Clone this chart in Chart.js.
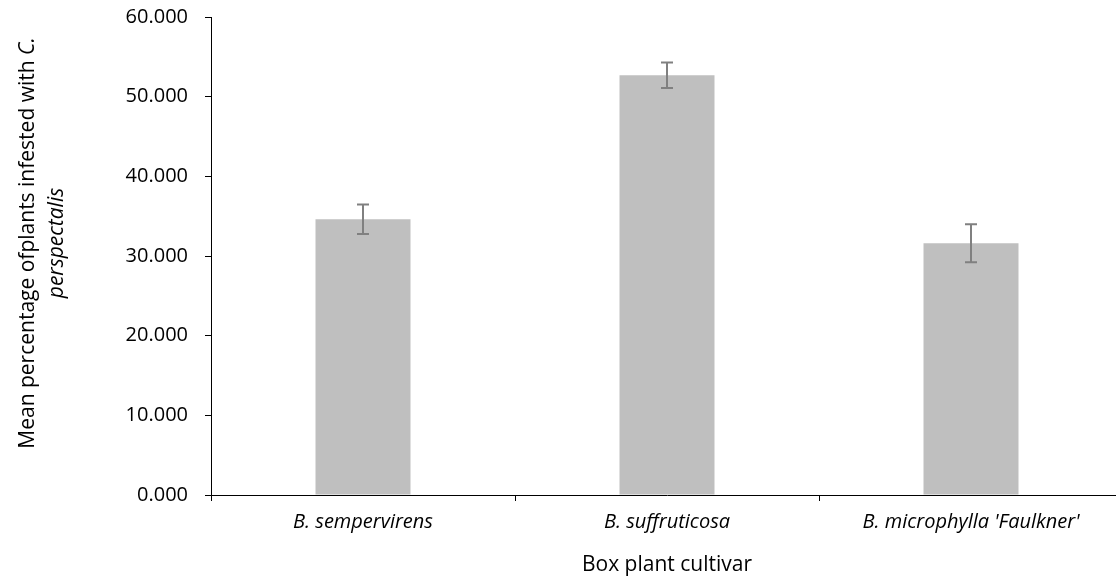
<!DOCTYPE html>
<html><head><meta charset="utf-8">
<script src="https://cdn.jsdelivr.net/npm/chart.js@4/dist/chart.umd.min.js"></script>
<style>
html,body{margin:0;padding:0;background:#fff;overflow:hidden;width:1116px;height:578px}
#wrap{position:absolute;left:0;top:0;width:1124px;height:578px}
</style>
</head><body><div id="wrap"><canvas id="c" width="1124" height="578"></canvas></div>
<script>
const categories = ["B. sempervirens", "B. suffruticosa", "B. microphylla 'Faulkner'"];
const meanValues = [34.6, 52.7, 31.6];
const errorValues = [1.85, 1.6, 2.4];
const yTicks = [0, 10, 20, 30, 40, 50, 60];
const xTitle = 'Box plant cultivar';
const yTitleLine1 = 'Mean percentage ofplants infested with ';
const yTitleLine1Italic = 'C.';
const yTitleLine2 = 'perspectalis';

const FONT = "'Open Sans', 'Liberation Sans', sans-serif";

const errorBarPlugin = {
  id: 'errorBars',
  afterDatasetsDraw(chart) {
    const ctx = chart.ctx;
    const meta = chart.getDatasetMeta(0);
    const y = chart.scales.y;
    ctx.save();
    ctx.strokeStyle = '#808080';
    ctx.lineWidth = 2;
    meta.data.forEach((bar, i) => {
      const m = meanValues[i], e = errorValues[i];
      const yt = y.getPixelForValue(m + e);
      const yb = y.getPixelForValue(m - e);
      const x = bar.x;
      ctx.beginPath();
      ctx.moveTo(x, yt); ctx.lineTo(x, yb);
      ctx.moveTo(x - 6, yt); ctx.lineTo(x + 6, yt);
      ctx.moveTo(x - 6, yb); ctx.lineTo(x + 6, yb);
      ctx.stroke();
    });
    ctx.restore();
  }
};

const yTitlePlugin = {
  id: 'yTitle',
  afterDraw(chart) {
    const ctx = chart.ctx;
    const normal = "21px " + FONT;
    const italic = "italic 21px " + FONT;
    const cy = 243;
    ctx.save();
    ctx.fillStyle = '#000';
    ctx.textBaseline = 'alphabetic';
    ctx.textAlign = 'left';
    ctx.save();
    ctx.translate(34, cy);
    ctx.rotate(-Math.PI / 2);
    ctx.font = normal;
    const w1 = ctx.measureText(yTitleLine1).width;
    ctx.font = italic;
    const w2 = ctx.measureText(yTitleLine1Italic).width;
    const start = -(w1 + w2) / 2;
    ctx.font = normal;
    ctx.fillText(yTitleLine1, start, 0);
    ctx.font = italic;
    ctx.fillText(yTitleLine1Italic, start + w1, 0);
    ctx.restore();
    ctx.save();
    ctx.translate(63, cy);
    ctx.rotate(-Math.PI / 2);
    ctx.font = italic;
    ctx.textAlign = 'center';
    ctx.fillText(yTitleLine2, 0, 0);
    ctx.restore();
    ctx.restore();
  }
};

new Chart(document.getElementById('c'), {
  type: 'bar',
  data: {
    labels: categories,
    datasets: [{
      data: meanValues,
      backgroundColor: '#bfbfbf',
      borderWidth: 0,
      barPercentage: 0.3125,
      categoryPercentage: 1
    }]
  },
  options: {
    responsive: false,
    animation: false,
    devicePixelRatio: 1,
    layout: { padding: { top: 17, right: 1, left: 0, bottom: 0 } },
    plugins: { legend: { display: false }, tooltip: { enabled: false } },
    scales: {
      x: {
        offset: true,
        grid: { drawOnChartArea: false, tickLength: 6, color: '#000', lineWidth: 1, offset: true },
        border: { color: '#000', width: 1 },
        ticks: { color: '#000', padding: 9, maxRotation: 0, autoSkip: false,
                 font: { family: FONT, size: 20, style: 'italic' } },
        title: { display: true, text: xTitle, color: '#000', padding: { top: 0, bottom: 0 },
                 font: { family: FONT, size: 21 } },
        afterFit(s) { s.height = 83; s.paddingLeft = 0; s.paddingRight = 0; }
      },
      y: {
        min: 0, max: 60,
        afterBuildTicks(s) { s.ticks = yTicks.map(v => ({ value: v })); },
        grid: { drawOnChartArea: false, tickLength: 6, color: '#000', lineWidth: 1 },
        border: { color: '#000', width: 1 },
        ticks: { color: '#000', padding: 17, font: { family: FONT, size: 20 },
                 callback: v => Number(v).toFixed(3) },
        afterFit(s) { s.width = 211; s.paddingTop = 0; s.paddingBottom = 0; }
      }
    }
  },
  plugins: [errorBarPlugin, yTitlePlugin]
});
</script>
</body></html>
